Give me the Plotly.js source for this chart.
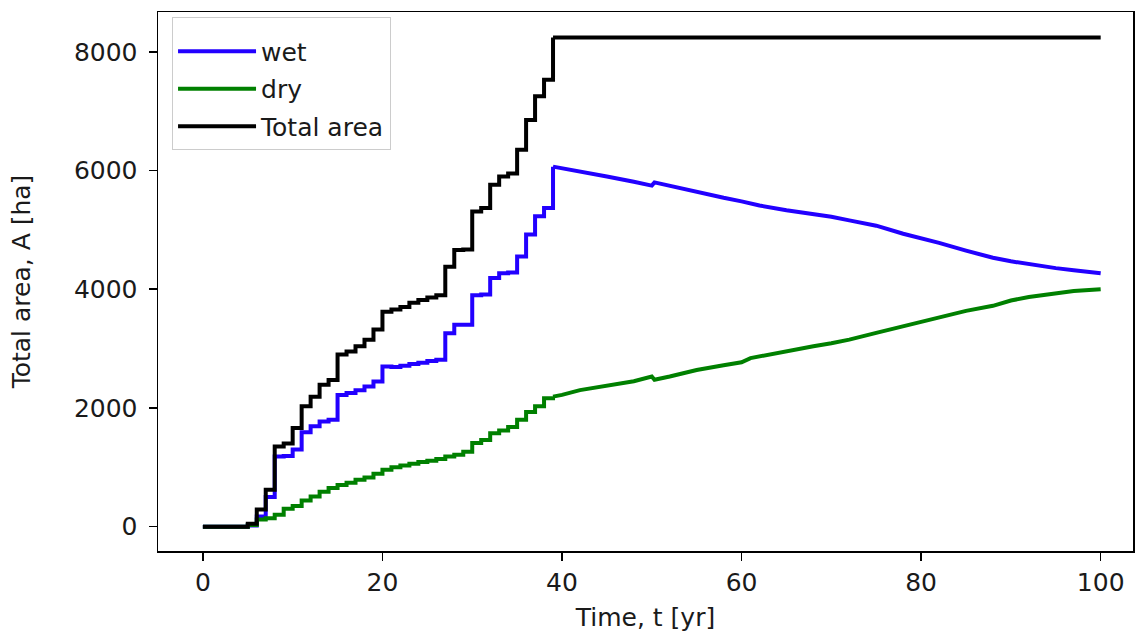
<!DOCTYPE html>
<html>
<head>
<meta charset="utf-8">
<script src="https://cdn.plot.ly/plotly-3.0.1.min.js"></script>
<style>
html,body{margin:0;padding:0;background:#fff;}
#chart{width:1135px;height:632px;}
</style>
</head>
<body>
<div id="chart"></div>
<script>
// ---- data ----
// stepped phase (yearly values, held until next year)
var tStep = [0,1,2,3,4,5,6,7,8,9,10,11,12,13,14,15,16,17,18,19,20,21,22,23,24,25,26,27,28,29,30,31,32,33,34,35,36,37,38,39];
var wetStep = [0,0,0,0,0,20,170,500,1180,1190,1300,1590,1690,1770,1800,2220,2250,2300,2360,2445,2700,2690,2710,2740,2760,2790,2810,3260,3400,3400,3900,3910,4190,4270,4280,4550,4920,5230,5370,6065];
var dryStep = [0,0,0,0,0,30,120,140,200,300,350,440,510,590,650,700,740,790,830,890,960,1000,1030,1060,1090,1110,1140,1180,1210,1260,1410,1460,1575,1620,1680,1800,1930,2030,2165,2190];
var totalStep = [0,0,0,0,0,50,290,620,1350,1400,1660,2030,2190,2390,2470,2900,2950,3040,3150,3320,3620,3660,3700,3770,3820,3860,3900,4380,4660,4670,5310,5370,5760,5900,5950,6350,6850,7250,7530,8240];

// smooth phase
var tSmooth = [39,40,42,45,48,50,50.3,52,55,58,60,61,62,65,68,70,72,75,78,80,82,85,88,90,92,95,97,100];
var wetSmooth = [6065,6040,5985,5900,5810,5745,5800,5740,5630,5540,5480,5440,5410,5330,5270,5220,5160,5070,4935,4860,4780,4650,4530,4470,4420,4355,4320,4270];
var drySmooth = [2190,2220,2300,2370,2450,2530,2475,2530,2640,2720,2770,2840,2870,2950,3040,3090,3150,3265,3380,3460,3530,3635,3720,3810,3870,3940,3970,4000];
var tTotalSmooth = [39,100];
var totalSmooth = [8240,8240];

var xTicks = [0,20,40,60,80,100];
var yTicks = [0,2000,4000,6000,8000];

var names = ['wet','dry','Total area'];
var colors = ['#2200ff','#008000','#000000'];

var traces = [];
var stepX = [tStep,tStep,tStep];
var stepY = [wetStep,dryStep,totalStep];
var smX = [tSmooth,tSmooth,tTotalSmooth];
var smY = [wetSmooth,drySmooth,totalSmooth];
for (var i=0;i<3;i++){
  traces.push({x:stepX[i], y:stepY[i], type:'scatter', mode:'lines', name:names[i],
    legendgroup:'g'+i, line:{color:colors[i], width:4, shape:'hv'}, hoverinfo:'skip'});
  traces.push({x:smX[i], y:smY[i], type:'scatter', mode:'lines', name:names[i],
    legendgroup:'g'+i, showlegend:false, line:{color:colors[i], width:4, shape:'linear'}, hoverinfo:'skip'});
}

var font = {family:'DejaVu Sans, sans-serif', size:25, color:'#1a1a1a'};
var layout = {
  width:1135, height:632,
  margin:{l:158, r:2, t:12, b:81, pad:0},
  paper_bgcolor:'#fff', plot_bgcolor:'#fff',
  font:font,
  showlegend:true,
  legend:{x:0.0144, y:0.9907, xanchor:'left', yanchor:'top',
    bgcolor:'rgba(255,255,255,0.85)', bordercolor:'#cccccc', borderwidth:1,
    font:font, tracegroupgap:2, itemwidth:78, traceorder:'grouped',
    title:{text:' ', font:{family:'DejaVu Sans, sans-serif', size:8}}},
  xaxis:{range:[-5.0,103.6], tickvals:xTicks, ticktext:xTicks.map(String),
    ticks:'outside', ticklen:8, tickwidth:1.5, tickcolor:'#000',
    showline:true, mirror:true, linecolor:'#000', linewidth:1.5,
    showgrid:false, zeroline:false, tickfont:font,
    title:{text:'Time, t [yr]', font:font, standoff:14}},
  yaxis:{range:[-410,8670], tickvals:yTicks, ticktext:yTicks.map(String),
    ticks:'outside', ticklen:8, tickwidth:1.5, tickcolor:'#000',
    showline:true, mirror:true, linecolor:'#000', linewidth:1.5,
    showgrid:false, zeroline:false, tickfont:font, ticklabelstandoff:6,
    title:{text:'Total area, A [ha]', font:font, standoff:36}}
};
Plotly.newPlot('chart', traces, layout, {displayModeBar:false, staticPlot:true});
</script>
</body>
</html>
